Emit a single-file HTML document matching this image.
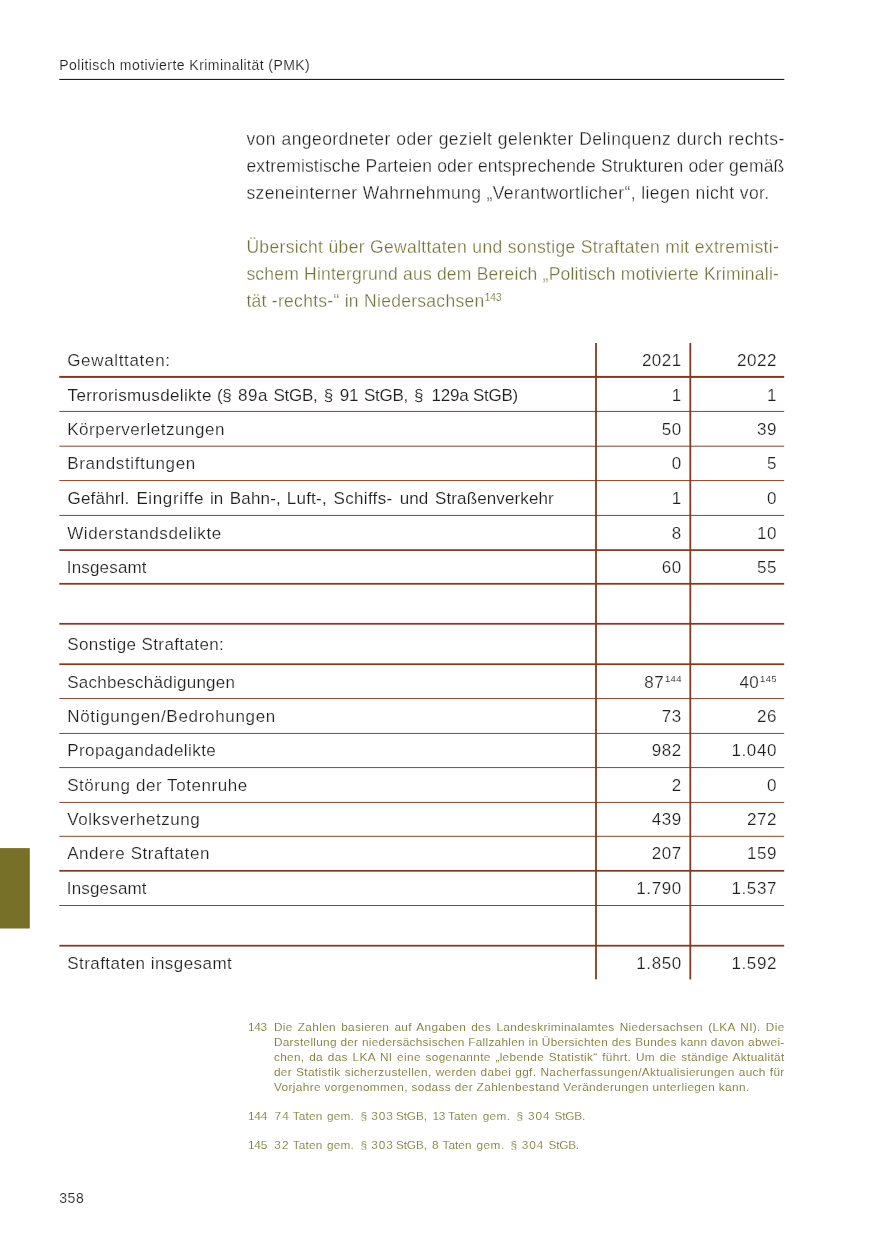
<!DOCTYPE html>
<html lang="de"><head><meta charset="utf-8"><title>Politisch motivierte Kriminalität (PMK)</title>
<style>
html,body{margin:0;padding:0;background:#fff}
body{width:875px;height:1241px;position:relative;overflow:hidden;font-family:'Liberation Sans',sans-serif}
.lines{position:absolute;left:0;top:0}
.page{position:absolute;left:0;top:0;width:875px;height:1241px;will-change:transform}
.t{position:absolute;color:#1f1f1f;line-height:0;white-space:nowrap;margin:0;-webkit-text-stroke:0.28px #fff}
.t i{display:inline-block;width:0;height:30px}
</style></head><body>

<svg class="lines" width="875" height="1241" viewBox="0 0 875 1241">
<rect x="0" y="848.1" width="29.8" height="80.4" fill="#777029"/>
<rect x="59.3" y="78.9" width="725" height="1.1" fill="#1c1c1c"/>
<rect x="59.3" y="375.90" width="724.9" height="2.0" fill="#843a20"/>
<rect x="59.3" y="410.92" width="724.9" height="0.95" fill="#843a20"/>
<rect x="59.3" y="445.72" width="724.9" height="0.95" fill="#843a20"/>
<rect x="59.3" y="480.12" width="724.9" height="0.95" fill="#843a20"/>
<rect x="59.3" y="514.92" width="724.9" height="0.95" fill="#843a20"/>
<rect x="59.3" y="549.23" width="724.9" height="1.75" fill="#843a20"/>
<rect x="59.3" y="582.92" width="724.9" height="1.75" fill="#843a20"/>
<rect x="59.3" y="622.92" width="724.9" height="1.75" fill="#843a20"/>
<rect x="59.3" y="663.33" width="724.9" height="1.75" fill="#843a20"/>
<rect x="59.3" y="698.12" width="724.9" height="0.95" fill="#843a20"/>
<rect x="59.3" y="732.92" width="724.9" height="0.95" fill="#843a20"/>
<rect x="59.3" y="767.12" width="724.9" height="0.95" fill="#843a20"/>
<rect x="59.3" y="801.92" width="724.9" height="0.95" fill="#843a20"/>
<rect x="59.3" y="835.82" width="724.9" height="0.95" fill="#843a20"/>
<rect x="59.3" y="869.92" width="724.9" height="1.75" fill="#843a20"/>
<rect x="59.3" y="905.02" width="724.9" height="0.95" fill="#843a20"/>
<rect x="59.3" y="944.83" width="724.9" height="1.75" fill="#843a20"/>
<rect x="595.10" y="343" width="1.8" height="636.4" fill="#843a20"/>
<rect x="689.40" y="343" width="1.8" height="636.4" fill="#843a20"/>
</svg>
<div class="page">
<div class="t" style="top:39.8px;font-size:14px;letter-spacing:0.45px;-webkit-text-stroke:0.14px #fff;left:59.3px"><i></i>Politisch motivierte Kriminalität (PMK)</div>
<div class="t" style="top:115.0px;font-size:17.5px;letter-spacing:0.43px;left:246.4px;word-spacing:0.288px"><i></i>von angeordneter oder gezielt gelenkter Delinquenz durch rechts-</div>
<div class="t" style="top:142.0px;font-size:17.5px;letter-spacing:0.169px;left:246.4px"><i></i>extremistische Parteien oder entsprechende Strukturen oder gemäß</div>
<div class="t" style="top:169.0px;font-size:17.5px;letter-spacing:0.394px;left:246.4px"><i></i>szeneinterner Wahrnehmung „Verantwortlicher“, liegen nicht vor.</div>
<div class="t" style="top:223.0px;font-size:17.5px;color:#727037;letter-spacing:0.335px;left:246.4px"><i></i>Übersicht über Gewalttaten und sonstige Straftaten mit extremisti-</div>
<div class="t" style="top:250.0px;font-size:17.5px;color:#727037;letter-spacing:0.216px;left:246.4px"><i></i>schem Hintergrund aus dem Bereich „Politisch motivierte Kriminali-</div>
<div class="t" style="top:276.8px;font-size:17.5px;color:#727037;letter-spacing:0.285px;left:246.4px"><i></i>tät -rechts-“ in Niedersachsen</div>
<div class="t" style="top:271.3px;font-size:10px;color:#727037;-webkit-text-stroke:0.1px #fff;left:484.8px"><i></i>143</div>
<div class="t" style="top:370.7px;font-size:17px;letter-spacing:0.345px;-webkit-text-stroke:0.14px #fff;left:67.6px"><i></i>Terrorismusdelikte</div>
<div class="t" style="top:370.7px;font-size:17px;letter-spacing:-0.25px;-webkit-text-stroke:0.14px #fff;left:216.9px"><i></i>(§</div>
<div class="t" style="top:370.7px;font-size:17px;letter-spacing:0.512px;-webkit-text-stroke:0.14px #fff;left:238.0px"><i></i>89a</div>
<div class="t" style="top:370.7px;font-size:17px;letter-spacing:-0.25px;-webkit-text-stroke:0.14px #fff;left:273.5px"><i></i>StGB,</div>
<div class="t" style="top:370.7px;font-size:17px;-webkit-text-stroke:0.14px #fff;left:323.7px"><i></i>§</div>
<div class="t" style="top:370.7px;font-size:17px;letter-spacing:-0.122px;-webkit-text-stroke:0.14px #fff;left:339.7px"><i></i>91</div>
<div class="t" style="top:370.7px;font-size:17px;letter-spacing:-0.25px;-webkit-text-stroke:0.14px #fff;left:364.0px"><i></i>StGB,</div>
<div class="t" style="top:370.7px;font-size:17px;-webkit-text-stroke:0.14px #fff;left:414.0px"><i></i>§</div>
<div class="t" style="top:370.7px;font-size:17px;letter-spacing:-0.25px;-webkit-text-stroke:0.14px #fff;left:431.6px"><i></i>129a</div>
<div class="t" style="top:370.7px;font-size:17px;letter-spacing:-0.25px;-webkit-text-stroke:0.14px #fff;left:472.9px"><i></i>StGB)</div>
<div class="t" style="top:473.6px;font-size:17px;letter-spacing:0.174px;-webkit-text-stroke:0.14px #fff;left:67.6px"><i></i>Gefährl.</div>
<div class="t" style="top:473.6px;font-size:17px;letter-spacing:0.63px;-webkit-text-stroke:0.14px #fff;left:136.4px"><i></i>Eingriffe</div>
<div class="t" style="top:473.6px;font-size:17px;letter-spacing:-0.134px;-webkit-text-stroke:0.14px #fff;left:210.0px"><i></i>in</div>
<div class="t" style="top:473.6px;font-size:17px;letter-spacing:0.161px;-webkit-text-stroke:0.14px #fff;left:229.8px"><i></i>Bahn-,</div>
<div class="t" style="top:473.6px;font-size:17px;letter-spacing:0.23px;-webkit-text-stroke:0.14px #fff;left:286.8px"><i></i>Luft-,</div>
<div class="t" style="top:473.6px;font-size:17px;letter-spacing:0.304px;-webkit-text-stroke:0.14px #fff;left:333.6px"><i></i>Schiffs-</div>
<div class="t" style="top:473.6px;font-size:17px;letter-spacing:0.063px;-webkit-text-stroke:0.14px #fff;left:399.8px"><i></i>und</div>
<div class="t" style="top:473.6px;font-size:17px;letter-spacing:0.118px;-webkit-text-stroke:0.14px #fff;left:435.0px"><i></i>Straßenverkehr</div>
<div class="t" style="top:335.6px;font-size:17px;letter-spacing:0.668px;-webkit-text-stroke:0.2px #fff;left:67.2px"><i></i>Gewalttaten:</div>
<div class="t" style="top:335.6px;font-size:17px;letter-spacing:0.5px;-webkit-text-stroke:0.2px #fff;right:193.3px"><i></i>2021</div>
<div class="t" style="top:335.6px;font-size:17px;letter-spacing:0.5px;-webkit-text-stroke:0.2px #fff;right:98.1px"><i></i>2022</div>
<div class="t" style="top:370.7px;font-size:17px;letter-spacing:0.5px;-webkit-text-stroke:0.2px #fff;right:193.3px"><i></i>1</div>
<div class="t" style="top:370.7px;font-size:17px;letter-spacing:0.5px;-webkit-text-stroke:0.2px #fff;right:98.1px"><i></i>1</div>
<div class="t" style="top:404.6px;font-size:17px;letter-spacing:0.519px;-webkit-text-stroke:0.2px #fff;left:67.2px"><i></i>Körperverletzungen</div>
<div class="t" style="top:404.6px;font-size:17px;letter-spacing:0.5px;-webkit-text-stroke:0.2px #fff;right:193.3px"><i></i>50</div>
<div class="t" style="top:404.6px;font-size:17px;letter-spacing:0.5px;-webkit-text-stroke:0.2px #fff;right:98.1px"><i></i>39</div>
<div class="t" style="top:439.1px;font-size:17px;letter-spacing:0.643px;-webkit-text-stroke:0.2px #fff;left:67.2px"><i></i>Brandstiftungen</div>
<div class="t" style="top:439.1px;font-size:17px;letter-spacing:0.5px;-webkit-text-stroke:0.2px #fff;right:193.3px"><i></i>0</div>
<div class="t" style="top:439.1px;font-size:17px;letter-spacing:0.5px;-webkit-text-stroke:0.2px #fff;right:98.1px"><i></i>5</div>
<div class="t" style="top:473.6px;font-size:17px;letter-spacing:0.5px;-webkit-text-stroke:0.2px #fff;right:193.3px"><i></i>1</div>
<div class="t" style="top:473.6px;font-size:17px;letter-spacing:0.5px;-webkit-text-stroke:0.2px #fff;right:98.1px"><i></i>0</div>
<div class="t" style="top:508.6px;font-size:17px;letter-spacing:0.61px;-webkit-text-stroke:0.2px #fff;left:67.2px"><i></i>Widerstandsdelikte</div>
<div class="t" style="top:508.6px;font-size:17px;letter-spacing:0.5px;-webkit-text-stroke:0.2px #fff;right:193.3px"><i></i>8</div>
<div class="t" style="top:508.6px;font-size:17px;letter-spacing:0.5px;-webkit-text-stroke:0.2px #fff;right:98.1px"><i></i>10</div>
<div class="t" style="top:542.6px;font-size:17px;letter-spacing:0.17px;-webkit-text-stroke:0.2px #fff;left:66.8px"><i></i>Insgesamt</div>
<div class="t" style="top:542.6px;font-size:17px;letter-spacing:0.5px;-webkit-text-stroke:0.2px #fff;right:193.3px"><i></i>60</div>
<div class="t" style="top:542.6px;font-size:17px;letter-spacing:0.5px;-webkit-text-stroke:0.2px #fff;right:98.1px"><i></i>55</div>
<div class="t" style="top:620.2px;font-size:17px;letter-spacing:0.383px;-webkit-text-stroke:0.2px #fff;left:67.2px"><i></i>Sonstige Straftaten:</div>
<div class="t" style="top:657.6px;font-size:17px;letter-spacing:0.251px;-webkit-text-stroke:0.2px #fff;left:67.2px"><i></i>Sachbeschädigungen</div>
<div class="t" style="top:651.9px;font-size:9.5px;color:#2a2a2a;letter-spacing:0.35px;-webkit-text-stroke:0.1px #fff;right:193.2px"><i></i>144</div>
<div class="t" style="top:657.6px;font-size:17px;letter-spacing:0.5px;-webkit-text-stroke:0.2px #fff;right:210.9px"><i></i>87</div>
<div class="t" style="top:651.9px;font-size:9.5px;color:#2a2a2a;letter-spacing:0.35px;-webkit-text-stroke:0.1px #fff;right:98.0px"><i></i>145</div>
<div class="t" style="top:657.6px;font-size:17px;letter-spacing:0.5px;-webkit-text-stroke:0.2px #fff;right:115.7px"><i></i>40</div>
<div class="t" style="top:691.6px;font-size:17px;letter-spacing:0.682px;-webkit-text-stroke:0.2px #fff;left:67.2px"><i></i>Nötigungen/Bedrohungen</div>
<div class="t" style="top:691.6px;font-size:17px;letter-spacing:0.5px;-webkit-text-stroke:0.2px #fff;right:193.3px"><i></i>73</div>
<div class="t" style="top:691.6px;font-size:17px;letter-spacing:0.5px;-webkit-text-stroke:0.2px #fff;right:98.1px"><i></i>26</div>
<div class="t" style="top:725.8px;font-size:17px;letter-spacing:0.426px;-webkit-text-stroke:0.2px #fff;left:67.2px"><i></i>Propagandadelikte</div>
<div class="t" style="top:725.8px;font-size:17px;letter-spacing:0.5px;-webkit-text-stroke:0.2px #fff;right:193.3px"><i></i>982</div>
<div class="t" style="top:725.8px;font-size:17px;letter-spacing:0.6px;-webkit-text-stroke:0.2px #fff;right:98.0px"><i></i>1.040</div>
<div class="t" style="top:760.6px;font-size:17px;letter-spacing:0.556px;-webkit-text-stroke:0.2px #fff;left:67.2px"><i></i>Störung der Totenruhe</div>
<div class="t" style="top:760.6px;font-size:17px;letter-spacing:0.5px;-webkit-text-stroke:0.2px #fff;right:193.3px"><i></i>2</div>
<div class="t" style="top:760.6px;font-size:17px;letter-spacing:0.5px;-webkit-text-stroke:0.2px #fff;right:98.1px"><i></i>0</div>
<div class="t" style="top:795.0px;font-size:17px;letter-spacing:0.561px;-webkit-text-stroke:0.2px #fff;left:67.2px"><i></i>Volksverhetzung</div>
<div class="t" style="top:795.0px;font-size:17px;letter-spacing:0.5px;-webkit-text-stroke:0.2px #fff;right:193.3px"><i></i>439</div>
<div class="t" style="top:795.0px;font-size:17px;letter-spacing:0.5px;-webkit-text-stroke:0.2px #fff;right:98.1px"><i></i>272</div>
<div class="t" style="top:829.4px;font-size:17px;letter-spacing:0.558px;-webkit-text-stroke:0.2px #fff;left:67.2px"><i></i>Andere Straftaten</div>
<div class="t" style="top:829.4px;font-size:17px;letter-spacing:0.5px;-webkit-text-stroke:0.2px #fff;right:193.3px"><i></i>207</div>
<div class="t" style="top:829.4px;font-size:17px;letter-spacing:0.5px;-webkit-text-stroke:0.2px #fff;right:98.1px"><i></i>159</div>
<div class="t" style="top:864.2px;font-size:17px;letter-spacing:0.17px;-webkit-text-stroke:0.2px #fff;left:66.8px"><i></i>Insgesamt</div>
<div class="t" style="top:864.2px;font-size:17px;letter-spacing:0.6px;-webkit-text-stroke:0.2px #fff;right:193.2px"><i></i>1.790</div>
<div class="t" style="top:864.2px;font-size:17px;letter-spacing:0.6px;-webkit-text-stroke:0.2px #fff;right:98.0px"><i></i>1.537</div>
<div class="t" style="top:938.8px;font-size:17px;letter-spacing:0.457px;-webkit-text-stroke:0.2px #fff;left:67.2px"><i></i>Straftaten insgesamt</div>
<div class="t" style="top:938.8px;font-size:17px;letter-spacing:0.6px;-webkit-text-stroke:0.2px #fff;right:193.2px"><i></i>1.850</div>
<div class="t" style="top:938.8px;font-size:17px;letter-spacing:0.6px;-webkit-text-stroke:0.2px #fff;right:98.0px"><i></i>1.592</div>
<div class="t" style="top:1000.7px;font-size:11.8px;color:#78762f;letter-spacing:-0.25px;-webkit-text-stroke:0.1px #fff;left:248.0px"><i></i>143</div>
<div class="t" style="top:1000.7px;font-size:11.8px;color:#78762f;letter-spacing:0.35px;-webkit-text-stroke:0.1px #fff;left:273.9px;word-spacing:1.545px"><i></i>Die Zahlen basieren auf Angaben des Landeskriminalamtes Niedersachsen (LKA NI). Die</div>
<div class="t" style="top:1015.8px;font-size:11.8px;color:#78762f;letter-spacing:0.296px;-webkit-text-stroke:0.1px #fff;left:273.9px"><i></i>Darstellung der niedersächsischen Fallzahlen in Übersichten des Bundes kann davon abwei-</div>
<div class="t" style="top:1030.9px;font-size:11.8px;color:#78762f;letter-spacing:0.35px;-webkit-text-stroke:0.1px #fff;left:273.9px;word-spacing:1.076px"><i></i>chen, da das LKA NI eine sogenannte „lebende Statistik“ führt. Um die ständige Aktualität</div>
<div class="t" style="top:1046.0px;font-size:11.8px;color:#78762f;letter-spacing:0.35px;-webkit-text-stroke:0.1px #fff;left:273.9px;word-spacing:0.477px"><i></i>der Statistik sicherzustellen, werden dabei ggf. Nacherfassungen/Aktualisierungen auch für</div>
<div class="t" style="top:1061.0px;font-size:11.8px;color:#78762f;letter-spacing:0.381px;-webkit-text-stroke:0.1px #fff;left:273.9px"><i></i>Vorjahre vorgenommen, sodass der Zahlenbestand Veränderungen unterliegen kann.</div>
<div class="t" style="top:1089.8px;font-size:11.8px;color:#78762f;letter-spacing:-0.244px;-webkit-text-stroke:0.1px #fff;left:248.0px"><i></i>144</div>
<div class="t" style="top:1089.8px;font-size:11.8px;color:#78762f;letter-spacing:1.175px;-webkit-text-stroke:0.14px #fff;left:274.6px"><i></i>74</div>
<div class="t" style="top:1089.8px;font-size:11.8px;color:#78762f;letter-spacing:0.21px;-webkit-text-stroke:0.14px #fff;left:292.7px"><i></i>Taten</div>
<div class="t" style="top:1089.8px;font-size:11.8px;color:#78762f;letter-spacing:0.155px;-webkit-text-stroke:0.14px #fff;left:327.0px"><i></i>gem.</div>
<div class="t" style="top:1089.8px;font-size:11.8px;color:#78762f;-webkit-text-stroke:0.14px #fff;left:360.6px"><i></i>§</div>
<div class="t" style="top:1089.8px;font-size:11.8px;color:#78762f;letter-spacing:0.856px;-webkit-text-stroke:0.14px #fff;left:371.3px"><i></i>303</div>
<div class="t" style="top:1089.8px;font-size:11.8px;color:#78762f;letter-spacing:-0.092px;-webkit-text-stroke:0.14px #fff;left:395.9px"><i></i>StGB,</div>
<div class="t" style="top:1089.8px;font-size:11.8px;color:#78762f;letter-spacing:-0.25px;-webkit-text-stroke:0.14px #fff;left:432.4px"><i></i>13</div>
<div class="t" style="top:1089.8px;font-size:11.8px;color:#78762f;letter-spacing:0.11px;-webkit-text-stroke:0.14px #fff;left:448.0px"><i></i>Taten</div>
<div class="t" style="top:1089.8px;font-size:11.8px;color:#78762f;letter-spacing:0.355px;-webkit-text-stroke:0.14px #fff;left:482.7px"><i></i>gem.</div>
<div class="t" style="top:1089.8px;font-size:11.8px;color:#78762f;-webkit-text-stroke:0.14px #fff;left:516.6px"><i></i>§</div>
<div class="t" style="top:1089.8px;font-size:11.8px;color:#78762f;letter-spacing:0.906px;-webkit-text-stroke:0.14px #fff;left:528.0px"><i></i>304</div>
<div class="t" style="top:1089.8px;font-size:11.8px;color:#78762f;letter-spacing:-0.117px;-webkit-text-stroke:0.14px #fff;left:554.4px"><i></i>StGB.</div>
<div class="t" style="top:1119.4px;font-size:11.8px;color:#78762f;letter-spacing:-0.244px;-webkit-text-stroke:0.1px #fff;left:248.0px"><i></i>145</div>
<div class="t" style="top:1119.4px;font-size:11.8px;color:#78762f;letter-spacing:1.3px;-webkit-text-stroke:0.14px #fff;left:274.2px"><i></i>32</div>
<div class="t" style="top:1119.4px;font-size:11.8px;color:#78762f;letter-spacing:0.21px;-webkit-text-stroke:0.14px #fff;left:292.7px"><i></i>Taten</div>
<div class="t" style="top:1119.4px;font-size:11.8px;color:#78762f;letter-spacing:0.155px;-webkit-text-stroke:0.14px #fff;left:327.0px"><i></i>gem.</div>
<div class="t" style="top:1119.4px;font-size:11.8px;color:#78762f;-webkit-text-stroke:0.14px #fff;left:360.6px"><i></i>§</div>
<div class="t" style="top:1119.4px;font-size:11.8px;color:#78762f;letter-spacing:0.856px;-webkit-text-stroke:0.14px #fff;left:371.3px"><i></i>303</div>
<div class="t" style="top:1119.4px;font-size:11.8px;color:#78762f;letter-spacing:-0.092px;-webkit-text-stroke:0.14px #fff;left:395.9px"><i></i>StGB,</div>
<div class="t" style="top:1119.4px;font-size:11.8px;color:#78762f;-webkit-text-stroke:0.14px #fff;left:431.9px"><i></i>8</div>
<div class="t" style="top:1119.4px;font-size:11.8px;color:#78762f;letter-spacing:0.035px;-webkit-text-stroke:0.14px #fff;left:442.5px"><i></i>Taten</div>
<div class="t" style="top:1119.4px;font-size:11.8px;color:#78762f;letter-spacing:0.522px;-webkit-text-stroke:0.14px #fff;left:476.4px"><i></i>gem.</div>
<div class="t" style="top:1119.4px;font-size:11.8px;color:#78762f;-webkit-text-stroke:0.14px #fff;left:510.4px"><i></i>§</div>
<div class="t" style="top:1119.4px;font-size:11.8px;color:#78762f;letter-spacing:1.006px;-webkit-text-stroke:0.14px #fff;left:521.7px"><i></i>304</div>
<div class="t" style="top:1119.4px;font-size:11.8px;color:#78762f;letter-spacing:-0.242px;-webkit-text-stroke:0.14px #fff;left:548.6px"><i></i>StGB.</div>
<div class="t" style="top:1172.8px;font-size:14px;letter-spacing:0.62px;-webkit-text-stroke:0.14px #fff;left:59.2px"><i></i>358</div>
</div>
</body></html>
